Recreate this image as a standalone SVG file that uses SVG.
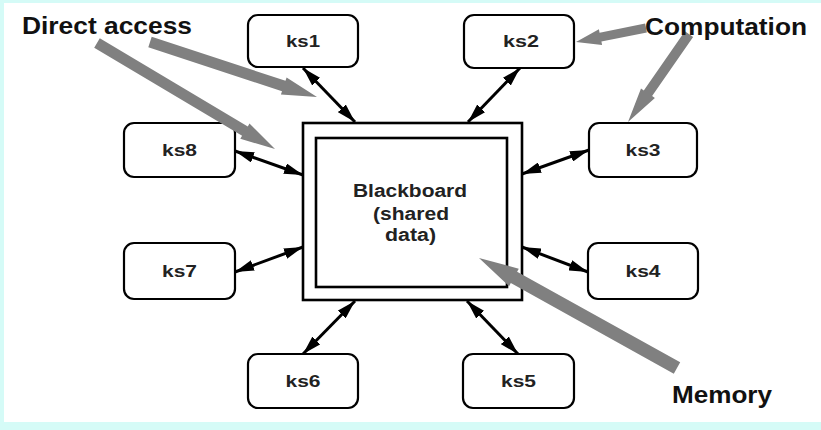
<svg xmlns="http://www.w3.org/2000/svg" width="821" height="430" viewBox="0 0 821 430">
<defs>
<style>
.node{fill:#fff;stroke:#000;stroke-width:2.2}
.lbl{font-family:"Liberation Sans",Arial,sans-serif;font-weight:bold;font-size:17px;fill:#222;text-anchor:middle}
.big{font-family:"Liberation Sans",Arial,sans-serif;font-weight:bold;font-size:24px;fill:#111}
.bb{font-family:"Liberation Sans",Arial,sans-serif;font-weight:bold;font-size:18px;fill:#222;text-anchor:middle}
.conn{stroke:#000;stroke-width:3;fill:none;marker-start:url(#ah);marker-end:url(#ah)}
.gray{fill:#808080;stroke:none}
</style>
<marker id="ah" markerUnits="userSpaceOnUse" markerWidth="19" markerHeight="11" refX="19" refY="5.5" orient="auto-start-reverse">
<path d="M0,0 L19,5.5 L0,11 z" fill="#000"/>
</marker>
</defs>
<rect x="0" y="0" width="821" height="430" fill="#d5fbf7"/>
<rect x="4" y="3" width="817" height="419" fill="#fff"/>

<g id="blackboard">
<rect x="303" y="123" width="219" height="177" fill="#fff" stroke="#000" stroke-width="2.6"/>
<rect x="316" y="138" width="191" height="149" fill="#fff" stroke="#000" stroke-width="2.6"/>
<text class="bb" x="410" y="197" textLength="114" lengthAdjust="spacingAndGlyphs">Blackboard</text>
<text class="bb" x="411" y="220" textLength="76" lengthAdjust="spacingAndGlyphs">(shared</text>
<text class="bb" x="410.5" y="241" textLength="51" lengthAdjust="spacingAndGlyphs">data)</text>
</g>

<g id="ks1"><rect class="node" x="248" y="15" width="110" height="52" rx="10"/><text class="lbl" x="303" y="47" textLength="34" lengthAdjust="spacingAndGlyphs">ks1</text></g>
<g id="ks2"><rect class="node" x="464" y="15" width="110" height="53" rx="10"/><text class="lbl" x="521" y="47" textLength="36" lengthAdjust="spacingAndGlyphs">ks2</text></g>
<g id="ks3"><rect class="node" x="589" y="123" width="108" height="54" rx="10"/><text class="lbl" x="643" y="156" textLength="35" lengthAdjust="spacingAndGlyphs">ks3</text></g>
<g id="ks4"><rect class="node" x="588" y="243" width="110" height="56" rx="10"/><text class="lbl" x="643" y="277" textLength="35" lengthAdjust="spacingAndGlyphs">ks4</text></g>
<g id="ks5"><rect class="node" x="463" y="354" width="111" height="54" rx="10"/><text class="lbl" x="518.5" y="387" textLength="35" lengthAdjust="spacingAndGlyphs">ks5</text></g>
<g id="ks6"><rect class="node" x="248" y="354" width="110" height="54" rx="10"/><text class="lbl" x="303" y="387" textLength="35" lengthAdjust="spacingAndGlyphs">ks6</text></g>
<g id="ks7"><rect class="node" x="124" y="243" width="111" height="56" rx="10"/><text class="lbl" x="179.5" y="277" textLength="35" lengthAdjust="spacingAndGlyphs">ks7</text></g>
<g id="ks8"><rect class="node" x="124" y="123" width="111" height="54" rx="10"/><text class="lbl" x="179.5" y="156" textLength="35" lengthAdjust="spacingAndGlyphs">ks8</text></g>

<g id="connectors">
<line class="conn" x1="303" y1="68" x2="355" y2="122"/>
<line class="conn" x1="520" y1="68" x2="468" y2="122"/>
<line class="conn" x1="235" y1="151" x2="303" y2="175"/>
<line class="conn" x1="589" y1="150" x2="522" y2="174"/>
<line class="conn" x1="235" y1="272" x2="303" y2="247"/>
<line class="conn" x1="588" y1="272" x2="522" y2="247"/>
<line class="conn" x1="303" y1="354" x2="355" y2="301"/>
<line class="conn" x1="518" y1="354" x2="467" y2="301"/>
</g>

<g id="annotations">
<polygon class="gray" points="151.7,36.8 285.5,80.8 286.6,77.5 317,97 280.9,94.6 282.0,91.3 148.3,47.2"/>
<polygon class="gray" points="99.8,38.3 247.8,126.4 249.5,123.4 275,149 240.3,138.8 242.1,135.8 94.2,47.7"/>
<polygon class="gray" points="645.1,23.6 599.6,32.7 598.9,29.3 576,42 602.1,44.9 601.4,41.5 646.9,32.4"/>
<polygon class="gray" points="684.9,31.2 643.8,90.4 641.0,88.4 628,122 654.9,98.1 652.1,96.1 693.1,36.9"/>
<polygon class="gray" points="680.2,362.3 517.1,271.8 518.8,268.7 479,258 509.1,286.2 510.8,283.1 673.8,373.7"/>
<text class="big" x="22" y="34" textLength="170" lengthAdjust="spacingAndGlyphs">Direct access</text>
<text class="big" x="645" y="35" textLength="162" lengthAdjust="spacingAndGlyphs">Computation</text>
<text class="big" x="672" y="403" textLength="100" lengthAdjust="spacingAndGlyphs">Memory</text>
</g>
</svg>
